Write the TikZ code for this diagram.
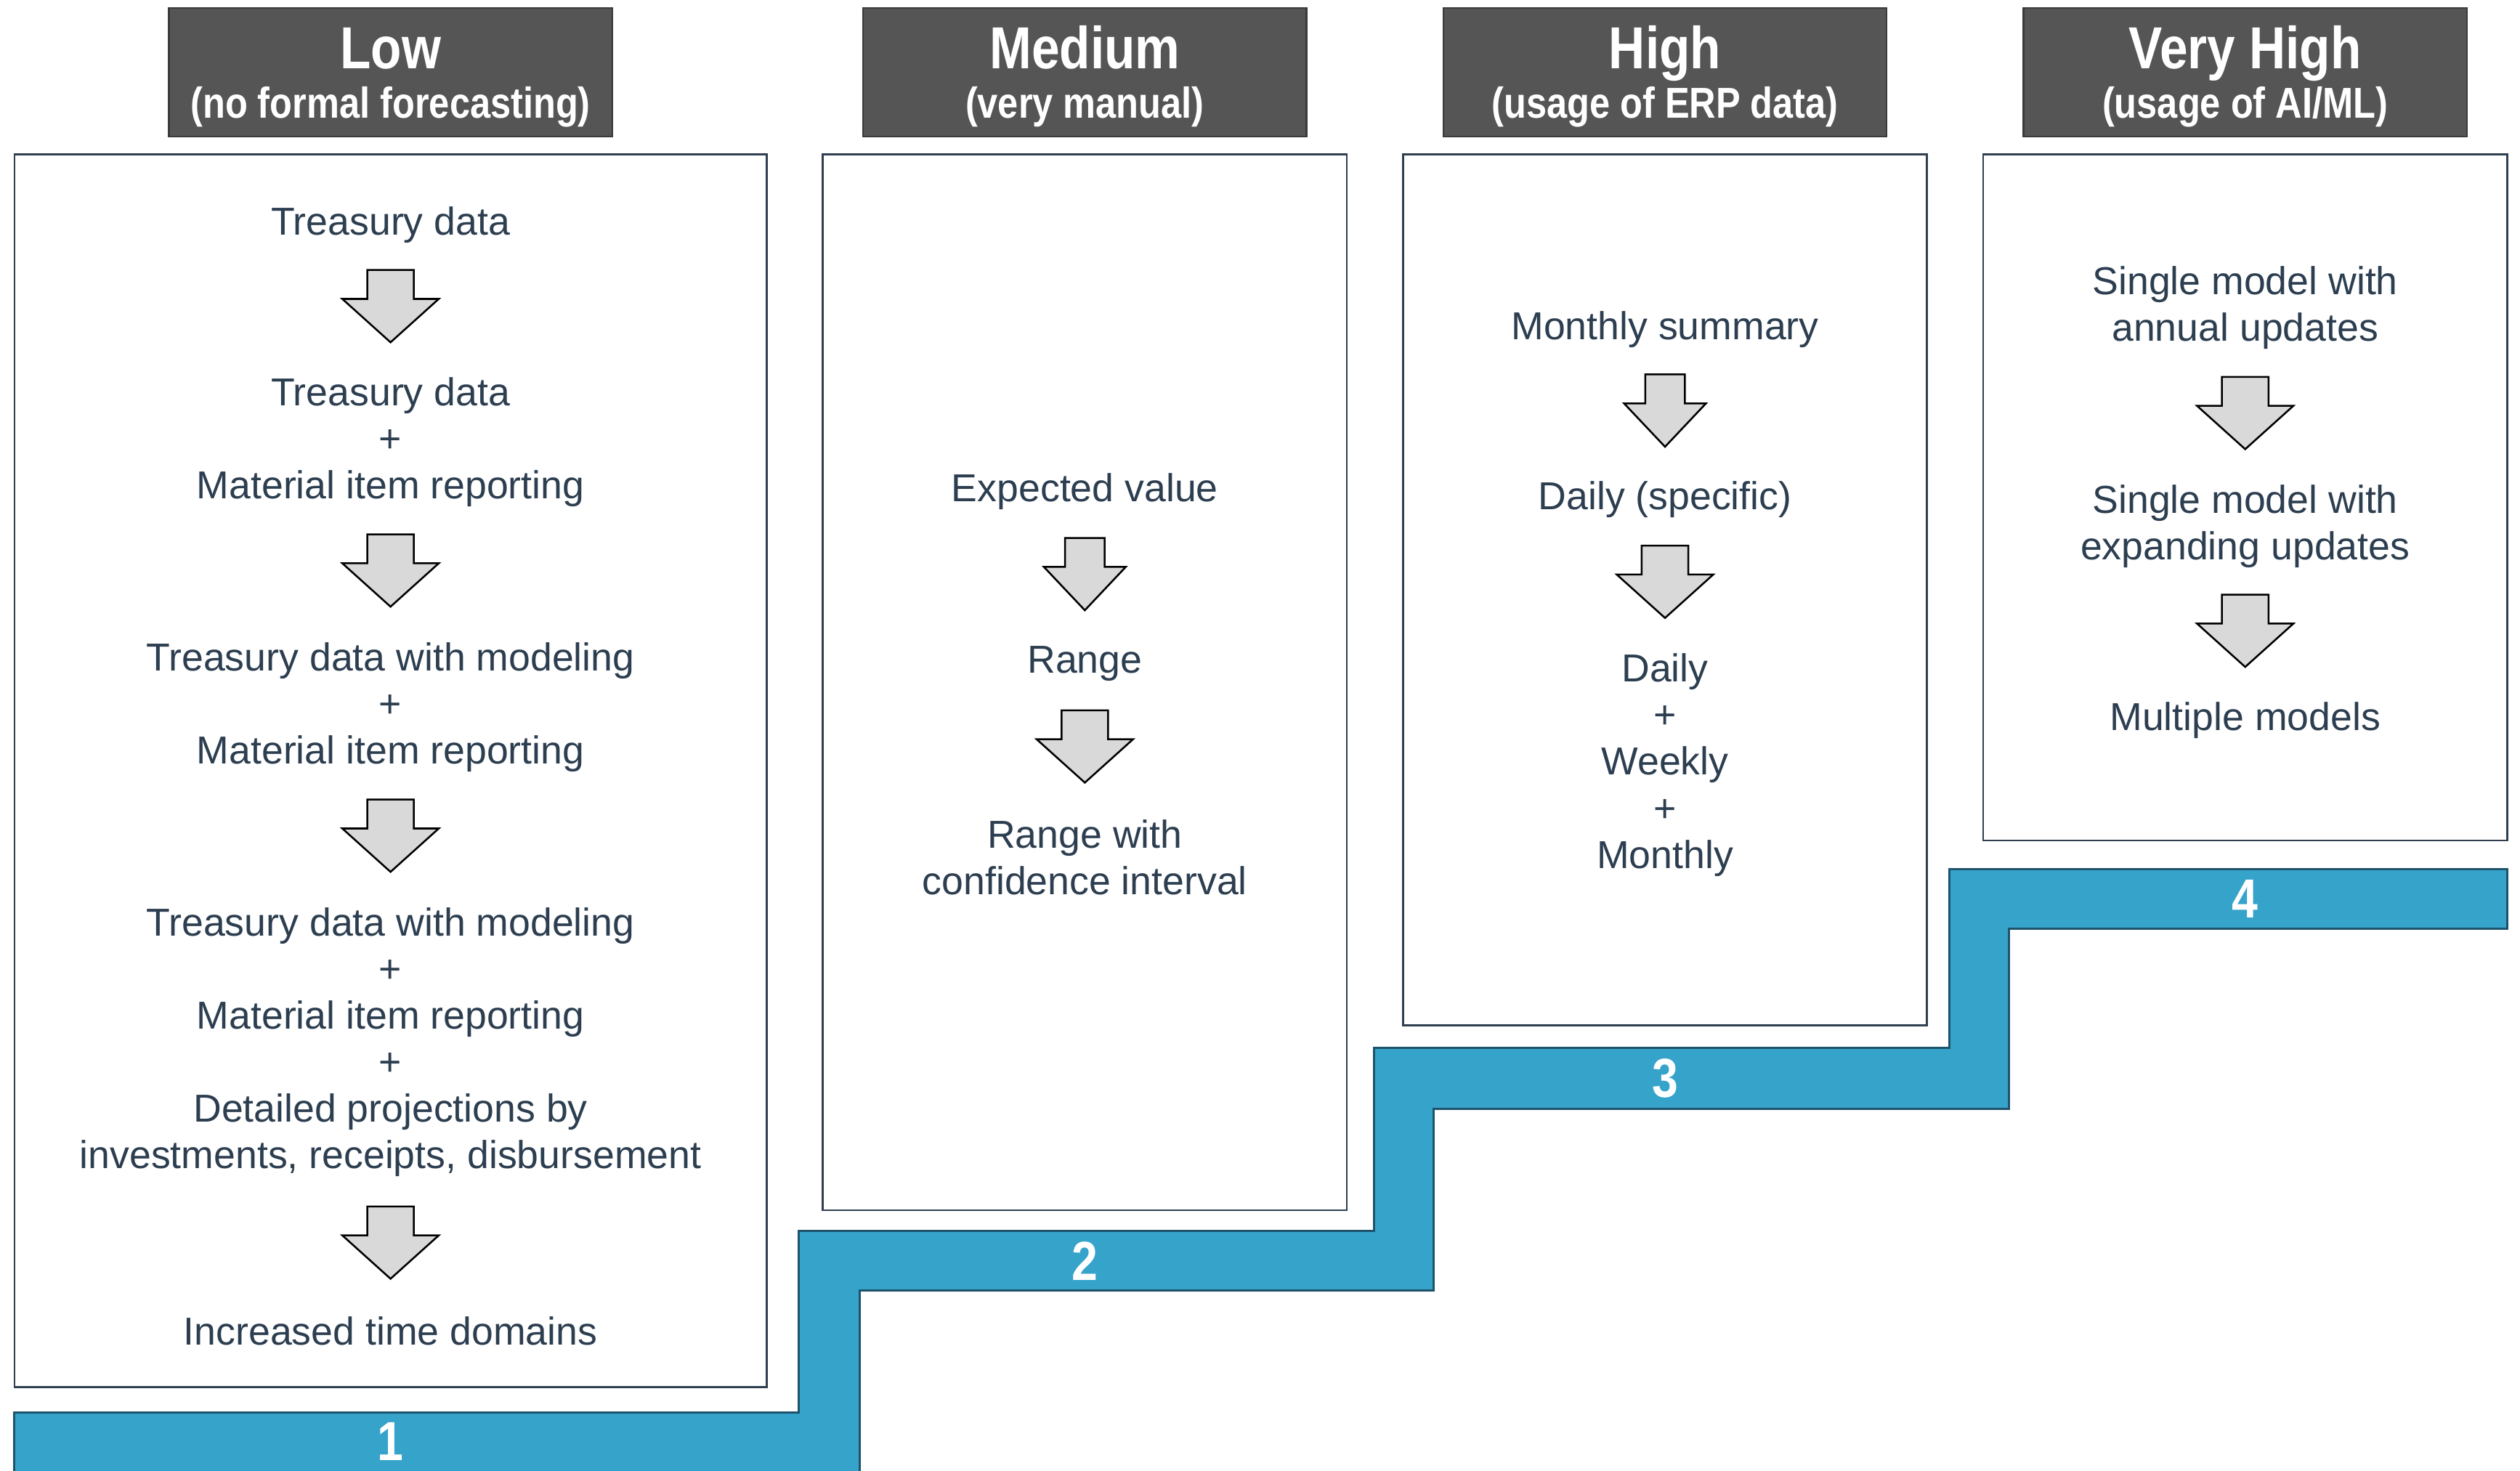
\documentclass[tikz,border=0pt]{standalone}
\usepackage{fontspec}
\setmainfont{Liberation Sans}
\newfontfamily\headfont[FakeStretch=0.85]{Liberation Sans}
\usetikzlibrary{calc}

\definecolor{ink}{HTML}{2C3E50}
\definecolor{panelline}{HTML}{2F3F50}
\definecolor{hdrgray}{HTML}{555555}
\definecolor{hdrline}{HTML}{3A3A3A}
\definecolor{stairblue}{HTML}{36A3CB}
\definecolor{stairline}{HTML}{1E536C}
\definecolor{arrowgray}{HTML}{D9D9D9}

\begin{document}
\begin{tikzpicture}[x=0.02cm, y=-0.02cm]
    \tikzstyle{header}=[rectangle, fill=hdrgray, draw=hdrline, line width=0.6pt, minimum width=5.52cm, minimum height=1.6cm, inner sep=0pt]
    \tikzstyle{hdtitle}=[text=white, font=\headfont\bfseries\fontsize{21}{24}\selectfont, inner sep=0pt]
    \tikzstyle{hdsub}=[text=white, font=\headfont\bfseries\fontsize{15.3}{18}\selectfont, inner sep=0pt]
    \tikzstyle{panel}=[draw=panelline, line width=0.7pt, fill=white]
    \tikzstyle{item}=[text=ink, align=center, font=\fontsize{13.8}{16.5}\selectfont, inner sep=0pt, yshift=-0.04cm]
    \tikzstyle{stair}=[fill=stairblue, draw=stairline, line width=0.8pt]
    \tikzstyle{stepnum}=[text=white, font=\headfont\bfseries\fontsize{19.5}{24}\selectfont, inner sep=0pt]
    % block arrow, a little above the midpoint it is placed at
    \tikzset{downarrow/.pic={
        \draw[fill=arrowgray, draw=black, line width=0.65pt]
            (-14.5,-25) -- (14.5,-25) -- (14.5,-7) -- (30,-7)
            -- (0,20) -- (-30,-7) -- (-14.5,-7) -- cycle;}}

    \useasboundingbox (0,0) rectangle (1568,915);
    \clip (0,0) rectangle (1568,915);
    \fill[white] (0,0) rectangle (1568,915);

    % The staircase along the bottom
    \draw[stair] (9,925) -- (9,879) -- (497,879) -- (497,766) -- (855,766)
        -- (855,652) -- (1213,652) -- (1213,541) -- (1560,541) -- (1560,578)
        -- (1250,578) -- (1250,690) -- (892,690) -- (892,803) -- (535,803)
        -- (535,925) -- cycle;
    \foreach \x/\n/\y in {243/1/897, 675/2/784.5, 1036/3/671, 1397/4/559.5}
        \node[stepnum] (num\n) at (\x,\y) {\n};

    % Panels, one per level
    \draw[panel] (9,96) rectangle (477,863);
    \draw[panel] (512,96) rectangle (838,753);
    \draw[panel] (873,96) rectangle (1199,638);
    \draw[panel] (1234,96) rectangle (1560,523);

    % Level headers
    \foreach \x/\i/\ttl/\sub in {243/1/Low/{(no formal forecasting)},
                                 675/2/Medium/{(very manual)},
                                 1036/3/High/{(usage of ERP data)},
                                 1397/4/Very High/{(usage of AI/ML)}}
    {
        \node[header] (hdr\i) at (\x,45) {};
        \node[hdtitle, anchor=base] (ttl\i) at (\x,42.5) {\ttl};
        \node[hdsub, anchor=base] (sub\i) at (\x,73.5) {\sub};
    }

    % Low
    \node[item] (low1) at (243,138) {Treasury data};
    \node[item] (low2) at (243,273) {Treasury data\\+\\Material item reporting};
    \node[item] (low3) at (243,438) {Treasury data with modeling\\+\\Material item reporting};
    \node[item] (low4) at (243,646.5) {Treasury data with modeling\\+\\Material item reporting\\+\\Detailed projections by\\investments, receipts, disbursement};
    \node[item] (low5) at (243,826) {Increased time domains};
    \foreach \a/\b in {low1/low2, low2/low3, low3/low4, low4/low5}
        \pic at ($(\a.south)!0.5!(\b.north)$) {downarrow};

    % Medium
    \node[item] (med1) at (675,304) {Expected value};
    \node[item] (med2) at (675,411) {Range};
    \node[item] (med3) at (675,531.5) {Range with\\confidence interval};
    \pic[xscale=0.85] at ($(med1.south)!0.5!(med2.north)$) {downarrow};
    \pic at ($(med2.south)!0.5!(med3.north)$) {downarrow};

    % High
    \node[item] (high1) at (1036,203) {Monthly summary};
    \node[item] (high2) at (1036,309) {Daily (specific)};
    \node[item] (high3) at (1036,474) {Daily\\+\\Weekly\\+\\Monthly};
    \pic[xscale=0.85] at ($(high1.south)!0.5!(high2.north)$) {downarrow};
    \pic at ($(high2.south)!0.5!(high3.north)$) {downarrow};

    % Very high
    \node[item] (vhigh1) at (1397,189.5) {Single model with\\annual updates};
    \node[item] (vhigh2) at (1397,325.5) {Single model with\\expanding updates};
    \node[item] (vhigh3) at (1397,446) {Multiple models};
    \foreach \a/\b in {vhigh1/vhigh2, vhigh2/vhigh3}
        \pic at ($(\a.south)!0.5!(\b.north)$) {downarrow};

\end{tikzpicture}
\end{document}
